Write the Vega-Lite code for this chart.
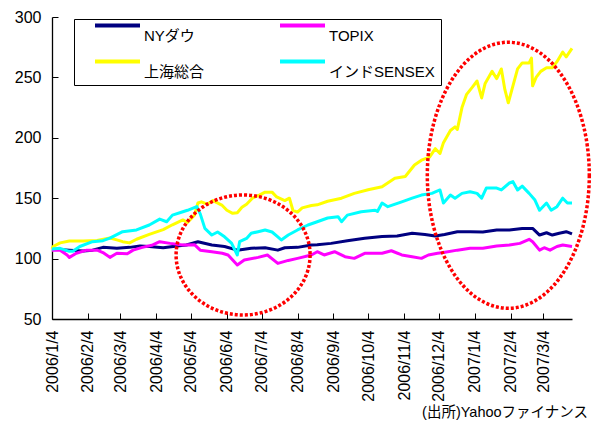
{
  "$schema": "https://vega.github.io/schema/vega-lite/v6.json",
  "width": 520,
  "height": 302,
  "autosize": "none",
  "padding": {"left": 52, "top": 17, "right": 24, "bottom": 107},
  "background": "white",
  "config": {
    "view": {"stroke": null},
    "font": "Liberation Sans, Noto Sans CJK JP, sans-serif"
  },
  "title": {
    "text": "(出所)Yahooファイナンス",
    "orient": "bottom",
    "anchor": "end",
    "frame": "group",
    "dx": 16,
    "offset": 5,
    "fontSize": 14.5,
    "fontWeight": "normal",
    "color": "black",
    "font": "Liberation Sans, Noto Sans CJK JP, sans-serif"
  },
  "datasets": {
    "lines": [
      {"s":"NYダウ","d":"2006-01-04","v":108},{"s":"NYダウ","d":"2006-01-19","v":107},{"s":"NYダウ","d":"2006-01-31","v":106.3},{"s":"NYダウ","d":"2006-02-08","v":107},{"s":"NYダウ","d":"2006-02-17","v":109.3},{"s":"NYダウ","d":"2006-03-01","v":108.5},{"s":"NYダウ","d":"2006-03-12","v":109.3},{"s":"NYダウ","d":"2006-03-21","v":110.4},{"s":"NYダウ","d":"2006-03-29","v":110},{"s":"NYダウ","d":"2006-04-10","v":109},{"s":"NYダウ","d":"2006-04-22","v":110.4},{"s":"NYダウ","d":"2006-04-30","v":111.3},{"s":"NYダウ","d":"2006-05-10","v":114},{"s":"NYダウ","d":"2006-05-22","v":111.3},{"s":"NYダウ","d":"2006-06-02","v":110},{"s":"NYダウ","d":"2006-06-13","v":107},{"s":"NYダウ","d":"2006-06-25","v":108.5},{"s":"NYダウ","d":"2006-07-07","v":109},{"s":"NYダウ","d":"2006-07-18","v":107},{"s":"NYダウ","d":"2006-07-24","v":109},{"s":"NYダウ","d":"2006-08-04","v":109.3},{"s":"NYダウ","d":"2006-08-16","v":111.3},{"s":"NYダウ","d":"2006-08-21","v":111.5},{"s":"NYダウ","d":"2006-09-02","v":112.6},{"s":"NYダウ","d":"2006-09-16","v":114.8},{"s":"NYダウ","d":"2006-10-01","v":116.8},{"s":"NYダウ","d":"2006-10-16","v":118.2},{"s":"NYダウ","d":"2006-10-29","v":118.7},{"s":"NYダウ","d":"2006-11-11","v":121},{"s":"NYダウ","d":"2006-11-22","v":120},{"s":"NYダウ","d":"2006-12-01","v":118.7},{"s":"NYダウ","d":"2006-12-09","v":120},{"s":"NYダウ","d":"2006-12-20","v":122.3},{"s":"NYダウ","d":"2006-12-31","v":122.3},{"s":"NYダウ","d":"2007-01-11","v":122},{"s":"NYダウ","d":"2007-01-23","v":123.7},{"s":"NYダウ","d":"2007-02-03","v":123.7},{"s":"NYダウ","d":"2007-02-14","v":125},{"s":"NYダウ","d":"2007-02-23","v":125},{"s":"NYダウ","d":"2007-03-01","v":119.5},{"s":"NYダウ","d":"2007-03-07","v":121.4},{"s":"NYダウ","d":"2007-03-12","v":119.5},{"s":"NYダウ","d":"2007-03-18","v":121},{"s":"NYダウ","d":"2007-03-24","v":122.3},{"s":"NYダウ","d":"2007-03-29","v":120.4},
      {"s":"TOPIX","d":"2006-01-04","v":107},{"s":"TOPIX","d":"2006-01-11","v":107},{"s":"TOPIX","d":"2006-01-17","v":103},{"s":"TOPIX","d":"2006-01-19","v":101},{"s":"TOPIX","d":"2006-01-25","v":104.4},{"s":"TOPIX","d":"2006-02-03","v":107},{"s":"TOPIX","d":"2006-02-12","v":107},{"s":"TOPIX","d":"2006-02-17","v":105},{"s":"TOPIX","d":"2006-02-23","v":101},{"s":"TOPIX","d":"2006-03-01","v":104.4},{"s":"TOPIX","d":"2006-03-10","v":104},{"s":"TOPIX","d":"2006-03-15","v":107},{"s":"TOPIX","d":"2006-03-23","v":109.3},{"s":"TOPIX","d":"2006-04-01","v":111.3},{"s":"TOPIX","d":"2006-04-07","v":114},{"s":"TOPIX","d":"2006-04-16","v":112.6},{"s":"TOPIX","d":"2006-04-27","v":111.3},{"s":"TOPIX","d":"2006-05-07","v":111.5},{"s":"TOPIX","d":"2006-05-12","v":107},{"s":"TOPIX","d":"2006-05-22","v":105.7},{"s":"TOPIX","d":"2006-05-31","v":104.4},{"s":"TOPIX","d":"2006-06-05","v":103},{"s":"TOPIX","d":"2006-06-13","v":94.7},{"s":"TOPIX","d":"2006-06-19","v":98.8},{"s":"TOPIX","d":"2006-07-01","v":101},{"s":"TOPIX","d":"2006-07-09","v":103},{"s":"TOPIX","d":"2006-07-18","v":96},{"s":"TOPIX","d":"2006-07-27","v":98.5},{"s":"TOPIX","d":"2006-08-04","v":100.2},{"s":"TOPIX","d":"2006-08-16","v":103},{"s":"TOPIX","d":"2006-08-21","v":105.7},{"s":"TOPIX","d":"2006-08-27","v":103},{"s":"TOPIX","d":"2006-09-05","v":105.7},{"s":"TOPIX","d":"2006-09-14","v":101.6},{"s":"TOPIX","d":"2006-09-22","v":100.2},{"s":"TOPIX","d":"2006-10-01","v":104.4},{"s":"TOPIX","d":"2006-10-16","v":104.4},{"s":"TOPIX","d":"2006-10-24","v":106.5},{"s":"TOPIX","d":"2006-11-02","v":103},{"s":"TOPIX","d":"2006-11-11","v":101.6},{"s":"TOPIX","d":"2006-11-19","v":100.2},{"s":"TOPIX","d":"2006-11-25","v":103},{"s":"TOPIX","d":"2006-12-03","v":104.4},{"s":"TOPIX","d":"2006-12-08","v":105},{"s":"TOPIX","d":"2006-12-20","v":107},{"s":"TOPIX","d":"2006-12-31","v":108.5},{"s":"TOPIX","d":"2007-01-11","v":108.5},{"s":"TOPIX","d":"2007-01-23","v":110.4},{"s":"TOPIX","d":"2007-02-03","v":111.3},{"s":"TOPIX","d":"2007-02-12","v":112.6},{"s":"TOPIX","d":"2007-02-20","v":116},{"s":"TOPIX","d":"2007-02-23","v":114},{"s":"TOPIX","d":"2007-03-01","v":107},{"s":"TOPIX","d":"2007-03-05","v":109},{"s":"TOPIX","d":"2007-03-10","v":107},{"s":"TOPIX","d":"2007-03-16","v":110},{"s":"TOPIX","d":"2007-03-21","v":111.3},{"s":"TOPIX","d":"2007-03-29","v":110},
      {"s":"上海総合","d":"2006-01-04","v":108},{"s":"上海総合","d":"2006-01-05","v":110},{"s":"上海総合","d":"2006-01-11","v":113},{"s":"上海総合","d":"2006-01-19","v":114.5},{"s":"上海総合","d":"2006-01-31","v":114.6},{"s":"上海総合","d":"2006-02-12","v":115},{"s":"上海総合","d":"2006-02-23","v":117},{"s":"上海総合","d":"2006-03-01","v":115.5},{"s":"上海総合","d":"2006-03-06","v":114},{"s":"上海総合","d":"2006-03-12","v":113},{"s":"上海総合","d":"2006-03-18","v":116},{"s":"上海総合","d":"2006-03-29","v":120},{"s":"上海総合","d":"2006-04-10","v":124},{"s":"上海総合","d":"2006-04-18","v":128},{"s":"上海総合","d":"2006-04-27","v":132},{"s":"上海総合","d":"2006-05-01","v":130},{"s":"上海総合","d":"2006-05-07","v":136},{"s":"上海総合","d":"2006-05-10","v":146},{"s":"上海総合","d":"2006-05-13","v":147},{"s":"上海総合","d":"2006-05-18","v":145},{"s":"上海総合","d":"2006-05-23","v":148},{"s":"上海総合","d":"2006-05-31","v":144},{"s":"上海総合","d":"2006-06-04","v":140},{"s":"上海総合","d":"2006-06-09","v":137.5},{"s":"上海総合","d":"2006-06-13","v":138},{"s":"上海総合","d":"2006-06-17","v":142.5},{"s":"上海総合","d":"2006-06-21","v":145},{"s":"上海総合","d":"2006-06-26","v":150},{"s":"上海総合","d":"2006-07-02","v":152.5},{"s":"上海総合","d":"2006-07-07","v":155},{"s":"上海総合","d":"2006-07-13","v":155},{"s":"上海総合","d":"2006-07-17","v":151},{"s":"上海総合","d":"2006-07-24","v":148},{"s":"上海総合","d":"2006-07-28","v":150},{"s":"上海総合","d":"2006-07-31","v":140},{"s":"上海総合","d":"2006-08-04","v":138.5},{"s":"上海総合","d":"2006-08-08","v":142},{"s":"上海総合","d":"2006-08-16","v":144},{"s":"上海総合","d":"2006-08-21","v":144.5},{"s":"上海総合","d":"2006-08-30","v":147.5},{"s":"上海総合","d":"2006-09-11","v":150},{"s":"上海総合","d":"2006-09-22","v":154},{"s":"上海総合","d":"2006-10-04","v":157},{"s":"上海総合","d":"2006-10-16","v":159.5},{"s":"上海総合","d":"2006-10-27","v":166.5},{"s":"上海総合","d":"2006-11-05","v":168},{"s":"上海総合","d":"2006-11-13","v":177.5},{"s":"上海総合","d":"2006-11-19","v":181.5},{"s":"上海総合","d":"2006-11-26","v":184},{"s":"上海総合","d":"2006-12-01","v":191},{"s":"上海総合","d":"2006-12-05","v":187},{"s":"上海総合","d":"2006-12-08","v":196},{"s":"上海総合","d":"2006-12-14","v":206},{"s":"上海総合","d":"2006-12-18","v":209},{"s":"上海総合","d":"2006-12-20","v":207},{"s":"上海総合","d":"2006-12-24","v":225},{"s":"上海総合","d":"2006-12-28","v":236},{"s":"上海総合","d":"2007-01-02","v":242},{"s":"上海総合","d":"2007-01-06","v":247},{"s":"上海総合","d":"2007-01-10","v":233},{"s":"上海総合","d":"2007-01-13","v":245},{"s":"上海総合","d":"2007-01-19","v":255},{"s":"上海総合","d":"2007-01-23","v":249},{"s":"上海総合","d":"2007-01-27","v":257},{"s":"上海総合","d":"2007-01-30","v":240},{"s":"上海総合","d":"2007-02-02","v":229},{"s":"上海総合","d":"2007-02-05","v":239.5},{"s":"上海総合","d":"2007-02-10","v":257},{"s":"上海総合","d":"2007-02-14","v":262},{"s":"上海総合","d":"2007-02-20","v":262},{"s":"上海総合","d":"2007-02-22","v":266},{"s":"上海総合","d":"2007-02-23","v":243},{"s":"上海総合","d":"2007-02-26","v":250},{"s":"上海総合","d":"2007-03-02","v":255},{"s":"上海総合","d":"2007-03-07","v":258},{"s":"上海総合","d":"2007-03-12","v":258},{"s":"上海総合","d":"2007-03-16","v":263},{"s":"上海総合","d":"2007-03-21","v":271},{"s":"上海総合","d":"2007-03-24","v":267},{"s":"上海総合","d":"2007-03-29","v":274},
      {"s":"インドSENSEX","d":"2006-01-04","v":108},{"s":"インドSENSEX","d":"2006-01-11","v":108.5},{"s":"インドSENSEX","d":"2006-01-19","v":106},{"s":"インドSENSEX","d":"2006-01-22","v":106},{"s":"インドSENSEX","d":"2006-01-28","v":110},{"s":"インドSENSEX","d":"2006-02-08","v":114},{"s":"インドSENSEX","d":"2006-02-17","v":114.8},{"s":"インドSENSEX","d":"2006-02-23","v":117},{"s":"インドSENSEX","d":"2006-03-06","v":122.3},{"s":"インドSENSEX","d":"2006-03-18","v":123.7},{"s":"インドSENSEX","d":"2006-03-29","v":127.8},{"s":"インドSENSEX","d":"2006-04-07","v":132.7},{"s":"インドSENSEX","d":"2006-04-13","v":130.5},{"s":"インドSENSEX","d":"2006-04-18","v":136},{"s":"インドSENSEX","d":"2006-04-27","v":138.8},{"s":"インドSENSEX","d":"2006-05-01","v":140},{"s":"インドSENSEX","d":"2006-05-09","v":143},{"s":"インドSENSEX","d":"2006-05-12","v":137},{"s":"インドSENSEX","d":"2006-05-16","v":125},{"s":"インドSENSEX","d":"2006-05-22","v":119.5},{"s":"インドSENSEX","d":"2006-05-27","v":122},{"s":"インドSENSEX","d":"2006-06-02","v":118},{"s":"インドSENSEX","d":"2006-06-08","v":112.8},{"s":"インドSENSEX","d":"2006-06-13","v":103},{"s":"インドSENSEX","d":"2006-06-15","v":114},{"s":"インドSENSEX","d":"2006-06-21","v":116.7},{"s":"インドSENSEX","d":"2006-06-25","v":121},{"s":"インドSENSEX","d":"2006-07-01","v":122.3},{"s":"インドSENSEX","d":"2006-07-07","v":123.7},{"s":"インドSENSEX","d":"2006-07-13","v":122},{"s":"インドSENSEX","d":"2006-07-18","v":118},{"s":"インドSENSEX","d":"2006-07-21","v":115.4},{"s":"インドSENSEX","d":"2006-07-27","v":119.5},{"s":"インドSENSEX","d":"2006-08-04","v":123.7},{"s":"インドSENSEX","d":"2006-08-13","v":127.8},{"s":"インドSENSEX","d":"2006-08-21","v":130.5},{"s":"インドSENSEX","d":"2006-08-30","v":133.6},{"s":"インドSENSEX","d":"2006-09-08","v":134.7},{"s":"インドSENSEX","d":"2006-09-11","v":130.5},{"s":"インドSENSEX","d":"2006-09-16","v":136},{"s":"インドSENSEX","d":"2006-09-28","v":138.8},{"s":"インドSENSEX","d":"2006-10-10","v":140},{"s":"インドSENSEX","d":"2006-10-12","v":139},{"s":"インドSENSEX","d":"2006-10-16","v":146},{"s":"インドSENSEX","d":"2006-10-21","v":143},{"s":"インドSENSEX","d":"2006-11-02","v":147},{"s":"インドSENSEX","d":"2006-11-11","v":150},{"s":"インドSENSEX","d":"2006-11-19","v":152.6},{"s":"インドSENSEX","d":"2006-11-28","v":154},{"s":"インドSENSEX","d":"2006-12-05","v":156.8},{"s":"インドSENSEX","d":"2006-12-08","v":146},{"s":"インドSENSEX","d":"2006-12-14","v":152.6},{"s":"インドSENSEX","d":"2006-12-18","v":150},{"s":"インドSENSEX","d":"2006-12-24","v":154},{"s":"インドSENSEX","d":"2006-12-31","v":155.4},{"s":"インドSENSEX","d":"2007-01-06","v":154},{"s":"インドSENSEX","d":"2007-01-10","v":150},{"s":"インドSENSEX","d":"2007-01-14","v":158.4},{"s":"インドSENSEX","d":"2007-01-23","v":158.4},{"s":"インドSENSEX","d":"2007-01-27","v":156.8},{"s":"インドSENSEX","d":"2007-02-03","v":162.6},{"s":"インドSENSEX","d":"2007-02-06","v":163.7},{"s":"インドSENSEX","d":"2007-02-10","v":156.8},{"s":"インドSENSEX","d":"2007-02-14","v":160},{"s":"インドSENSEX","d":"2007-02-20","v":154},{"s":"インドSENSEX","d":"2007-02-25","v":148.5},{"s":"インドSENSEX","d":"2007-03-01","v":140},{"s":"インドSENSEX","d":"2007-03-07","v":146},{"s":"インドSENSEX","d":"2007-03-11","v":140},{"s":"インドSENSEX","d":"2007-03-16","v":143},{"s":"インドSENSEX","d":"2007-03-21","v":150},{"s":"インドSENSEX","d":"2007-03-25","v":146},{"s":"インドSENSEX","d":"2007-03-29","v":146}
    ],
    "ellipse1": [{"d": "2006-06-18", "v": 103}],
    "ellipse2": [{"d": "2007-02-02", "v": 169}]
  },
  "encoding": {
    "x": {
      "field": "d",
      "type": "temporal",
      "scale": {
        "type": "utc",
        "domain": [
          {"year": 2006, "month": 1, "date": 4, "utc": true},
          {"year": 2007, "month": 3, "date": 29, "utc": true}
        ]
      },
      "axis": {
        "title": null,
        "grid": false,
        "values": [
          {"year": 2006, "month": 1, "date": 4, "utc": true},
          {"year": 2006, "month": 2, "date": 4, "utc": true},
          {"year": 2006, "month": 3, "date": 4, "utc": true},
          {"year": 2006, "month": 4, "date": 4, "utc": true},
          {"year": 2006, "month": 5, "date": 4, "utc": true},
          {"year": 2006, "month": 6, "date": 4, "utc": true},
          {"year": 2006, "month": 7, "date": 4, "utc": true},
          {"year": 2006, "month": 8, "date": 4, "utc": true},
          {"year": 2006, "month": 9, "date": 4, "utc": true},
          {"year": 2006, "month": 10, "date": 4, "utc": true},
          {"year": 2006, "month": 11, "date": 4, "utc": true},
          {"year": 2006, "month": 12, "date": 4, "utc": true},
          {"year": 2007, "month": 1, "date": 4, "utc": true},
          {"year": 2007, "month": 2, "date": 4, "utc": true},
          {"year": 2007, "month": 3, "date": 4, "utc": true}
        ],
        "labelExpr": "utcFormat(datum.value, '%Y/%-m/%-d')",
        "labelAngle": 270,
        "labelAlign": "right",
        "labelBaseline": "middle",
        "labelFontSize": 16,
        "labelColor": "black",
        "labelPadding": 17,
        "labelOverlap": false,
        "labelFlush": false,
        "tickSize": -6,
        "tickColor": "black",
        "domainColor": "black",
        "domainWidth": 1.3
      }
    },
    "y": {
      "field": "v",
      "type": "quantitative",
      "scale": {"domain": [50, 300], "nice": false, "zero": false},
      "axis": {
        "title": null,
        "grid": false,
        "values": [50, 100, 150, 200, 250, 300],
        "labelFontSize": 16,
        "labelColor": "black",
        "labelPadding": 17,
        "tickSize": -6,
        "tickColor": "black",
        "domainColor": "black",
        "domainWidth": 1.3
      }
    }
  },
  "layer": [
    {
      "data": {"name": "lines"},
      "mark": {"type": "line", "strokeWidth": 3, "strokeJoin": "round"},
      "encoding": {
        "color": {
          "field": "s",
          "type": "nominal",
          "scale": {
            "domain": ["NYダウ", "TOPIX", "上海総合", "インドSENSEX"],
            "range": ["#000080", "#FF00FF", "#FFFF00", "#00FFFF"]
          },
          "legend": {
            "title": null,
            "orient": "none",
            "legendX": 22,
            "legendY": 2,
            "columns": 2,
            "direction": "horizontal",
            "symbolType": "M 0.5 -1.1 L 5.5 -1.1",
            "symbolSize": 324,
            "symbolStrokeWidth": 4,
            "labelOffset": 42.5,
            "labelFontSize": 15,
            "labelColor": "black",
            "labelFont": "Liberation Sans, Noto Sans CJK JP, sans-serif",
            "columnPadding": 60,
            "rowPadding": 10,
            "padding": 5.5,
            "strokeColor": "black",
            "fillColor": "white"
          }
        }
      }
    },
    {
      "data": {"name": "ellipse1"},
      "mark": {
        "type": "point",
        "shape": "M 1 0 C 1 0.495 0.552 0.896 0 0.896 C -0.552 0.896 -1 0.495 -1 0 C -1 -0.495 -0.552 -0.896 0 -0.896 C 0.552 -0.896 1 -0.495 1 0 Z",
        "size": 17956,
        "filled": false,
        "stroke": "#FF0000",
        "strokeWidth": 3.5,
        "strokeDash": [3, 2],
        "opacity": 1
      },
      "encoding": {}
    },
    {
      "data": {"name": "ellipse2"},
      "mark": {
        "type": "point",
        "shape": "M 0.609 0 C 0.609 0.552 0.336 1 0 1 C -0.336 1 -0.609 0.552 -0.609 0 C -0.609 -0.552 -0.336 -1 0 -1 C 0.336 -1 0.609 -0.552 0.609 0 Z",
        "size": 70756,
        "filled": false,
        "stroke": "#FF0000",
        "strokeWidth": 3.5,
        "strokeDash": [3, 2],
        "opacity": 1
      },
      "encoding": {}
    }
  ]
}
